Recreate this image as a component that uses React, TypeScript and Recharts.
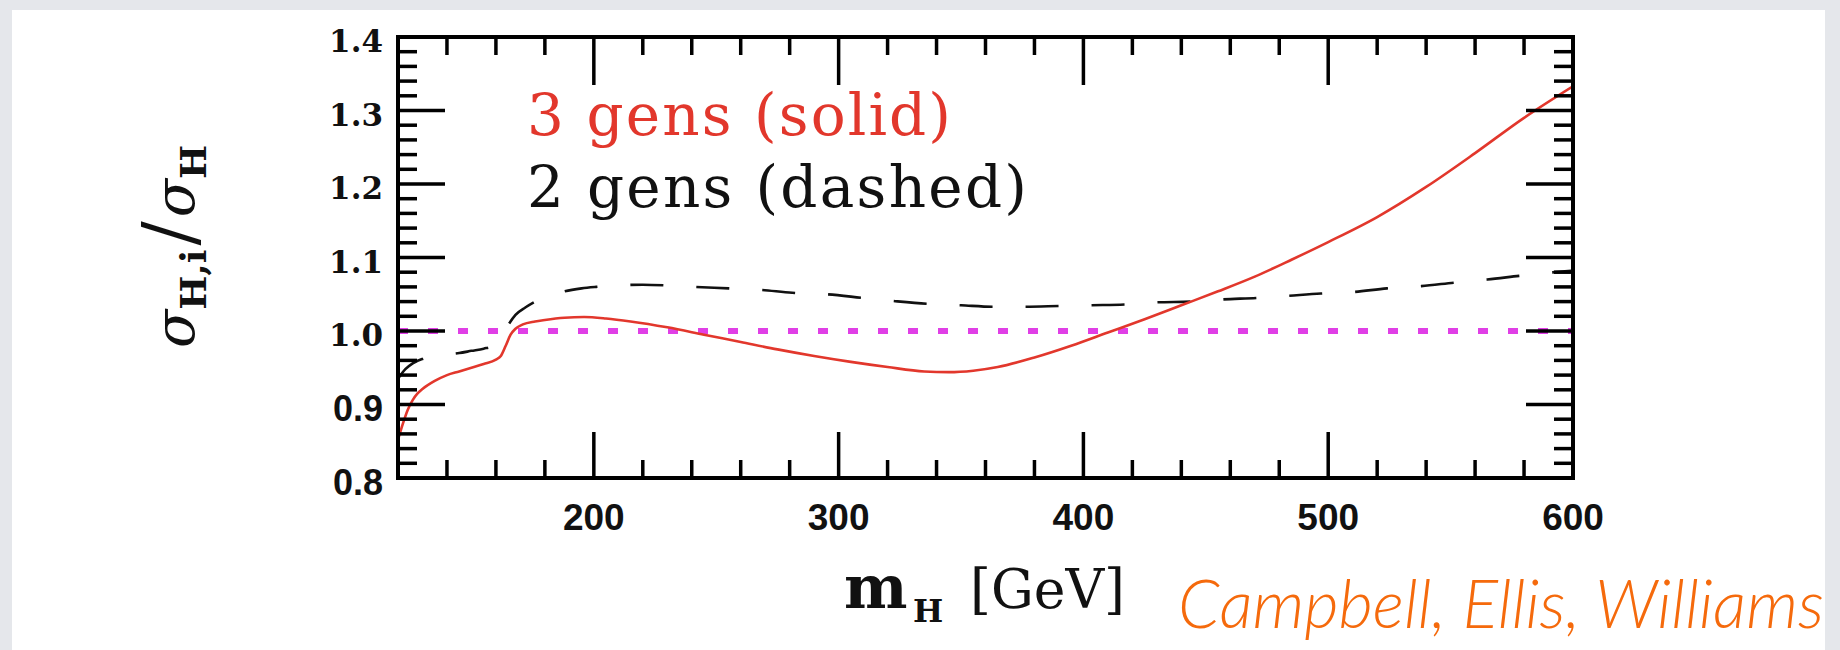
import { LineChart, Line, XAxis, YAxis, ReferenceLine } from "recharts";

// Higgs mass (GeV) and cross-section ratio, 3 generations (solid red)
const mass3Gens = [120, 122, 124, 126, 128, 130, 135, 140, 145, 150, 155, 160, 162, 164, 166, 168, 171, 176, 180, 188, 196, 205, 215, 230, 245, 260, 275, 290, 305, 320, 335, 345, 355, 365, 380, 395, 410, 425, 440, 455, 470, 485, 500, 520, 540, 560, 580, 600];
const ratio3Gens = [0.852, 0.874, 0.893, 0.906, 0.915, 0.921, 0.932, 0.94, 0.945, 0.95, 0.955, 0.961, 0.966, 0.98, 0.995, 1.003, 1.009, 1.013, 1.015, 1.018, 1.019, 1.017, 1.013, 1.005, 0.995, 0.985, 0.975, 0.966, 0.958, 0.951, 0.945, 0.944, 0.946, 0.951, 0.964, 0.98, 0.998, 1.016, 1.035, 1.054, 1.074, 1.097, 1.121, 1.155, 1.196, 1.242, 1.29, 1.333];

// 2 generations (dashed black)
const mass2Gens = [120, 123, 126, 130, 135, 140, 145, 150, 155, 159, 162, 165, 168, 172, 176, 182, 188, 195, 201, 210, 220, 230, 241, 255, 268, 281, 295, 310, 322, 336, 350, 363, 376, 390, 403, 417, 430, 444, 457, 471, 484, 497, 510, 524, 538, 552, 565, 578, 589, 600];
const ratio2Gens = [0.935, 0.948, 0.956, 0.962, 0.966, 0.968, 0.97, 0.973, 0.976, 0.98, 0.99, 1.008, 1.022, 1.032, 1.04, 1.048, 1.054, 1.058, 1.06, 1.062, 1.063, 1.062, 1.06, 1.058, 1.056, 1.052, 1.05, 1.045, 1.041, 1.037, 1.035, 1.033, 1.033, 1.034, 1.035, 1.036, 1.039, 1.04, 1.043, 1.045, 1.048, 1.051, 1.053, 1.058, 1.061, 1.066, 1.07, 1.075, 1.079, 1.082];

const xDomain = [120, 600];
const xTicks = [120, 140, 160, 180, 200, 220, 240, 260, 280, 300, 320, 340, 360, 380, 400, 420, 440, 460, 480, 500, 520, 540, 560, 580, 600];
const xMajor = [200, 300, 400, 500, 600];

const yDomain = [0.8, 1.4];
const yTicks = [0.8, 0.82, 0.84, 0.86, 0.88, 0.9, 0.92, 0.94, 0.96, 0.98, 1.0, 1.02, 1.04, 1.06, 1.08, 1.1, 1.12, 1.14, 1.16, 1.18, 1.2, 1.22, 1.24, 1.26, 1.28, 1.3, 1.32, 1.34, 1.36, 1.38, 1.4];
const yMajor = [0.8, 0.9, 1.0, 1.1, 1.2, 1.3, 1.4];

const series3 = mass3Gens.map((m, i) => ({ m, v: ratio3Gens[i] }));
const series2 = mass2Gens.map((m, i) => ({ m, v: ratio2Gens[i] }));

const RED = "#e2372c";
const MAGENTA = "#e03fe6";
const TICK_W = 3.5;

const axisLine = { stroke: "#000", strokeWidth: 4, strokeLinecap: "square" as const };

function BottomTick(props: any) {
  const { x, y, payload } = props;
  const v = payload.value;
  const edge = v === xDomain[0] || v === xDomain[1];
  const major = xMajor.includes(v);
  return (
    <g>
      {!edge && <line x1={x} x2={x} y1={y} y2={y - (major ? 46 : 18)} stroke="#000" strokeWidth={TICK_W} />}
      {major && (
        <text x={x} y={y + 52} textAnchor="middle" fontFamily="Liberation Sans, Arial, sans-serif" fontWeight="bold" fontSize={37} fill="#111">
          {v}
        </text>
      )}
    </g>
  );
}

function TopTick(props: any) {
  const { x, y, payload } = props;
  const v = payload.value;
  if (v === xDomain[0] || v === xDomain[1]) return <g />;
  const major = xMajor.includes(v);
  return <line x1={x} x2={x} y1={y} y2={y + (major ? 48 : 18)} stroke="#000" strokeWidth={TICK_W} />;
}

function LeftTick(props: any) {
  const { x, y, payload } = props;
  const v = payload.value;
  const edge = v === yDomain[0] || v === yDomain[1];
  const major = yMajor.includes(v);
  const serif = v >= 1.0;
  return (
    <g>
      {!edge && <line x1={x} x2={x + (major ? 47 : 19)} y1={y} y2={y} stroke="#000" strokeWidth={TICK_W} />}
      {major && (
        <text
          x={x - 15}
          y={y + 4}
          textAnchor="end"
          dominantBaseline="central"
          fontFamily={serif ? "DejaVu Serif, serif" : "Liberation Sans, Arial, sans-serif"}
          fontWeight="bold"
          fontSize={serif ? 31 : 36}
          fill="#111"
        >
          {v.toFixed(1)}
        </text>
      )}
    </g>
  );
}

function RightTick(props: any) {
  const { x, y, payload } = props;
  const v = payload.value;
  if (v === yDomain[0] || v === yDomain[1]) return <g />;
  const major = yMajor.includes(v);
  return <line x1={x} x2={x - (major ? 47 : 19)} y1={y} y2={y} stroke="#000" strokeWidth={TICK_W} />;
}

export default function App() {
  return (
    <div style={{ position: "absolute", left: 0, top: 0, width: 1840, height: 650, background: "#e5e7eb", overflow: "hidden" }}>
      <div style={{ position: "absolute", left: 12, top: 10, width: 1813, height: 640, background: "#fff" }} />
      <div style={{ position: "absolute", left: 0, top: 0 }}>
        <LineChart width={1840} height={650} margin={{ top: 7, right: 207, bottom: 142, left: 338 }}>
          <XAxis
            xAxisId="bottom"
            dataKey="m"
            type="number"
            domain={xDomain}
            ticks={xTicks}
            interval={0}
            allowDataOverflow
            orientation="bottom"
            height={30}
            axisLine={axisLine}
            tickLine={false}
            tickSize={0}
            tickMargin={0}
            tick={(p: any) => <BottomTick {...p} />}
          />
          <XAxis
            xAxisId="top"
            dataKey="m"
            type="number"
            domain={xDomain}
            ticks={xTicks}
            interval={0}
            allowDataOverflow
            orientation="top"
            height={30}
            axisLine={axisLine}
            tickLine={false}
            tickSize={0}
            tickMargin={0}
            tick={(p: any) => <TopTick {...p} />}
          />
          <YAxis
            yAxisId="left"
            type="number"
            domain={yDomain}
            ticks={yTicks}
            interval={0}
            allowDataOverflow
            orientation="left"
            width={60}
            axisLine={axisLine}
            tickLine={false}
            tickSize={0}
            tickMargin={0}
            tick={(p: any) => <LeftTick {...p} />}
          />
          <YAxis
            yAxisId="right"
            type="number"
            domain={yDomain}
            ticks={yTicks}
            interval={0}
            allowDataOverflow
            orientation="right"
            width={60}
            axisLine={axisLine}
            tickLine={false}
            tickSize={0}
            tickMargin={0}
            tick={(p: any) => <RightTick {...p} />}
          />
          <ReferenceLine xAxisId="bottom" yAxisId="left" y={1.0} stroke={MAGENTA} strokeWidth={6} strokeDasharray="10 20" />
          <Line
            xAxisId="bottom"
            yAxisId="left"
            data={series2}
            dataKey="v"
            type="monotone"
            stroke="#111"
            strokeWidth={2.6}
            strokeDasharray="33 33"
            dot={false}
            activeDot={false}
            isAnimationActive={false}
          />
          <Line
            xAxisId="bottom"
            yAxisId="left"
            data={series3}
            dataKey="v"
            type="monotone"
            stroke={RED}
            strokeWidth={2.6}
            dot={false}
            activeDot={false}
            isAnimationActive={false}
          />
        </LineChart>
      </div>

      {/* titles, legend and credit */}
      <svg width={1840} height={650} style={{ position: "absolute", left: 0, top: 0, pointerEvents: "none" }}>
        <text x={527} y={135} fontFamily="DejaVu Serif, serif" fontSize={58} fill={RED} textLength={424} lengthAdjust="spacing">
          3 gens (solid)
        </text>
        <text x={527} y={207} fontFamily="DejaVu Serif, serif" fontSize={58} fill="#111" textLength={500} lengthAdjust="spacing">
          2 gens (dashed)
        </text>

        <text transform="translate(194, 348) rotate(-90)" fontFamily="DejaVu Serif, serif" fill="#111">
          <tspan fontSize={56} fontStyle="italic">σ</tspan>
          <tspan fontSize={36} fontWeight="bold" dy={12}>H,i</tspan>
          <tspan fontSize={72} dy={-12} dx={4}>/</tspan>
          <tspan fontSize={56} fontStyle="italic" dx={4}>σ</tspan>
          <tspan fontSize={36} fontWeight="bold" dy={12}>H</tspan>
        </text>

        <text x={844} y={608} fontFamily="DejaVu Serif, serif" fontWeight="bold" fontSize={60} fill="#111">
          m
        </text>
        <text x={913} y={622} fontFamily="DejaVu Serif, serif" fontWeight="bold" fontSize={32} fill="#111">
          H
        </text>
        <text x={970} y={608} fontFamily="DejaVu Serif, serif" fontSize={54} fill="#111" textLength={155} lengthAdjust="spacingAndGlyphs">
          [GeV]
        </text>

        <text x={1178} y={628} fontFamily="Lato, Open Sans, sans-serif" fontStyle="italic" fontWeight={300} fontSize={68} fill="#f56a0c" textLength={646} lengthAdjust="spacingAndGlyphs">
          Campbell, Ellis, Williams
        </text>
      </svg>
    </div>
  );
}
